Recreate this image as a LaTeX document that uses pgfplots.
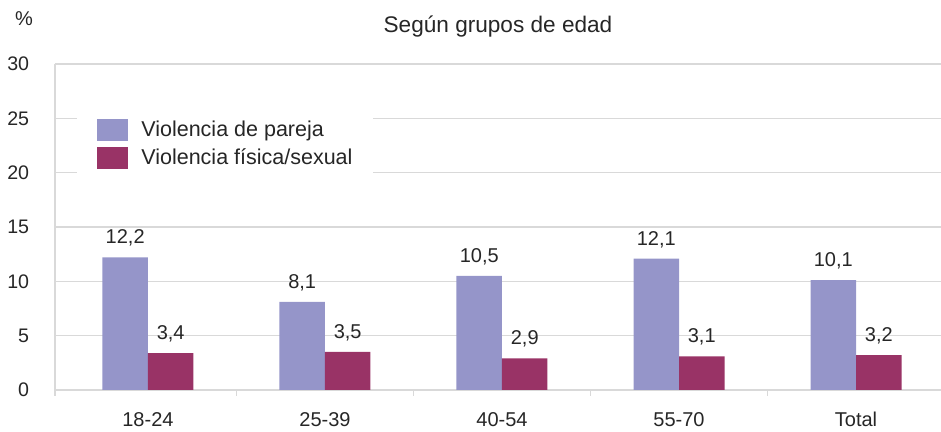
\documentclass[border=0pt]{standalone}
\usepackage{fontspec}
\setmainfont{Liberation Sans}
\usepackage{pgfplots}
\pgfplotsset{compat=1.18}
\definecolor{pareja}{RGB}{149,149,201}
\definecolor{fisica}{RGB}{153,51,102}
\definecolor{gridc}{RGB}{217,217,217}
\definecolor{txt}{RGB}{38,38,38}
\begin{document}
\begin{tikzpicture}
\begin{axis}[
  at={(27.5pt,21pt)}, anchor=south west,
  scale only axis, width=443pt, height=163pt,
  xmin=-0.525, xmax=4.48, ymin=0, ymax=30,
  ybar=0pt, bar width=22.75pt,
  axis x line*=bottom, axis y line*=left,
  axis line style={draw=gridc, line width=0.75pt},
  xtick={0,1,2,3,4},
  xticklabels={18-24,25-39,40-54,55-70,Total},
  minor xtick={-0.525,0.5,1.5,2.5,3.5},
  ytick={0,5,10,15,20,25,30},
  major tick length=0pt, minor tick length=3pt, tick align=outside,
  minor tick style={draw=gridc, line width=0.75pt},
  ymajorgrids, grid style={draw=gridc, line width=0.75pt},
  /pgf/number format/assume math mode=true,
  yticklabel style={anchor=east, inner sep=0pt, xshift=-12.75pt, font=\fontsize{9.8}{11}\selectfont, text=txt},
  xticklabel style={anchor=base, inner sep=0pt, yshift=-18.35pt, font=\fontsize{10}{12}\selectfont, text=txt},
  nodes near coords={\pgfmathprintnumber[fixed,fixed zerofill,precision=1,use comma,assume math mode=true]{\pgfplotspointmeta}},
  every node near coord/.append style={anchor=base, inner sep=0pt, yshift=6.75pt, font=\fontsize{10}{12}\selectfont, text=txt},
  legend image code/.code={\fill[#1, draw=none] (0pt,-5.5pt) rectangle (15.5pt,5.5pt);},
  legend style={at={(0.0248,0.868)}, anchor=north west, draw=none, fill=white,
    inner xsep=10pt, inner ysep=6pt, row sep=3pt, column sep=6.5pt,
    font=\fontsize{10.75}{12}\selectfont, text=txt,
    nodes={inner sep=0pt}},
  legend cell align=left,
]
\addplot[fill=pareja, draw=none] coordinates {(0,12.2) (1,8.1) (2,10.5) (3,12.1) (4,10.1)};
\addplot[fill=fisica, draw=none] coordinates {(0,3.4) (1,3.5) (2,2.9) (3,3.1) (4,3.2)};
\legend{Violencia de pareja, Violencia física/sexual}
\end{axis}
\node[anchor=base, inner sep=0pt, font=\fontsize{11.3}{13}\selectfont, text=txt] at (249pt,199.75pt) {Según grupos de edad};
\node[anchor=base, inner sep=0pt, font=\fontsize{10}{12}\selectfont, text=txt] at (12pt,203pt) {\%};
\pgfresetboundingbox
\path[use as bounding box] (0pt,0pt) rectangle (470.5pt,216pt);
\end{tikzpicture}
\end{document}
